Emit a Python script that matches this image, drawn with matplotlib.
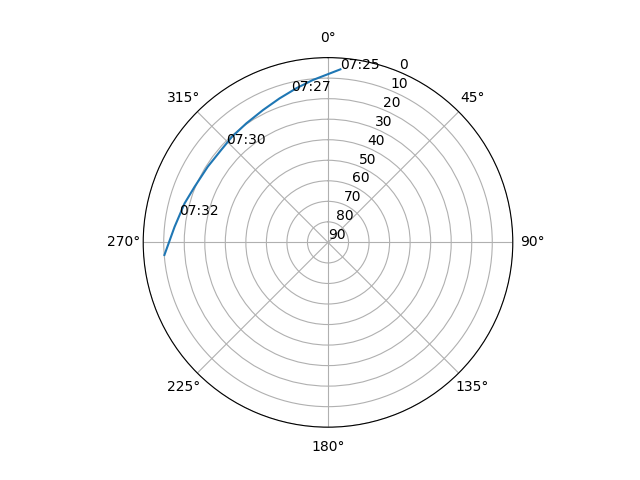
import numpy as np
import matplotlib
matplotlib.use('Agg')
import matplotlib.pyplot as plt

# satellite pass: azimuth (deg, clockwise from north) and elevation (deg)
azimuth = [4.1, 0.1, 354.6, 348.3, 346.3, 341.4, 333.8, 325.5, 317.5, 314.1,
           310.8, 302.2, 292.6, 285.2, 280.4, 275.8, 265.6]
elevation = [5.5, 8.0, 10.6, 13.4, 14.3, 16.0, 18.2, 19.7, 20.5, 21.0,
             21.2, 20.8, 19.6, 17.6, 16.5, 14.9, 10.1]
time_labels = ['07:25', '', '', '', '07:27', '', '', '', '', '07:30',
               '', '', '', '', '07:32', '', '']

fig = plt.figure(figsize=(6.4, 4.8), dpi=100)
ax = fig.add_subplot(111, projection='polar')
ax.set_theta_zero_location('N')
ax.set_theta_direction(-1)

theta = np.radians(azimuth)
ax.plot(theta, elevation)

for t, e, lab in zip(theta, elevation, time_labels):
    if lab:
        ax.text(t, e, lab)

ax.set_rlim(90, 0)
ax.set_yticks(range(0, 91, 10))

fig.savefig('out.png')
